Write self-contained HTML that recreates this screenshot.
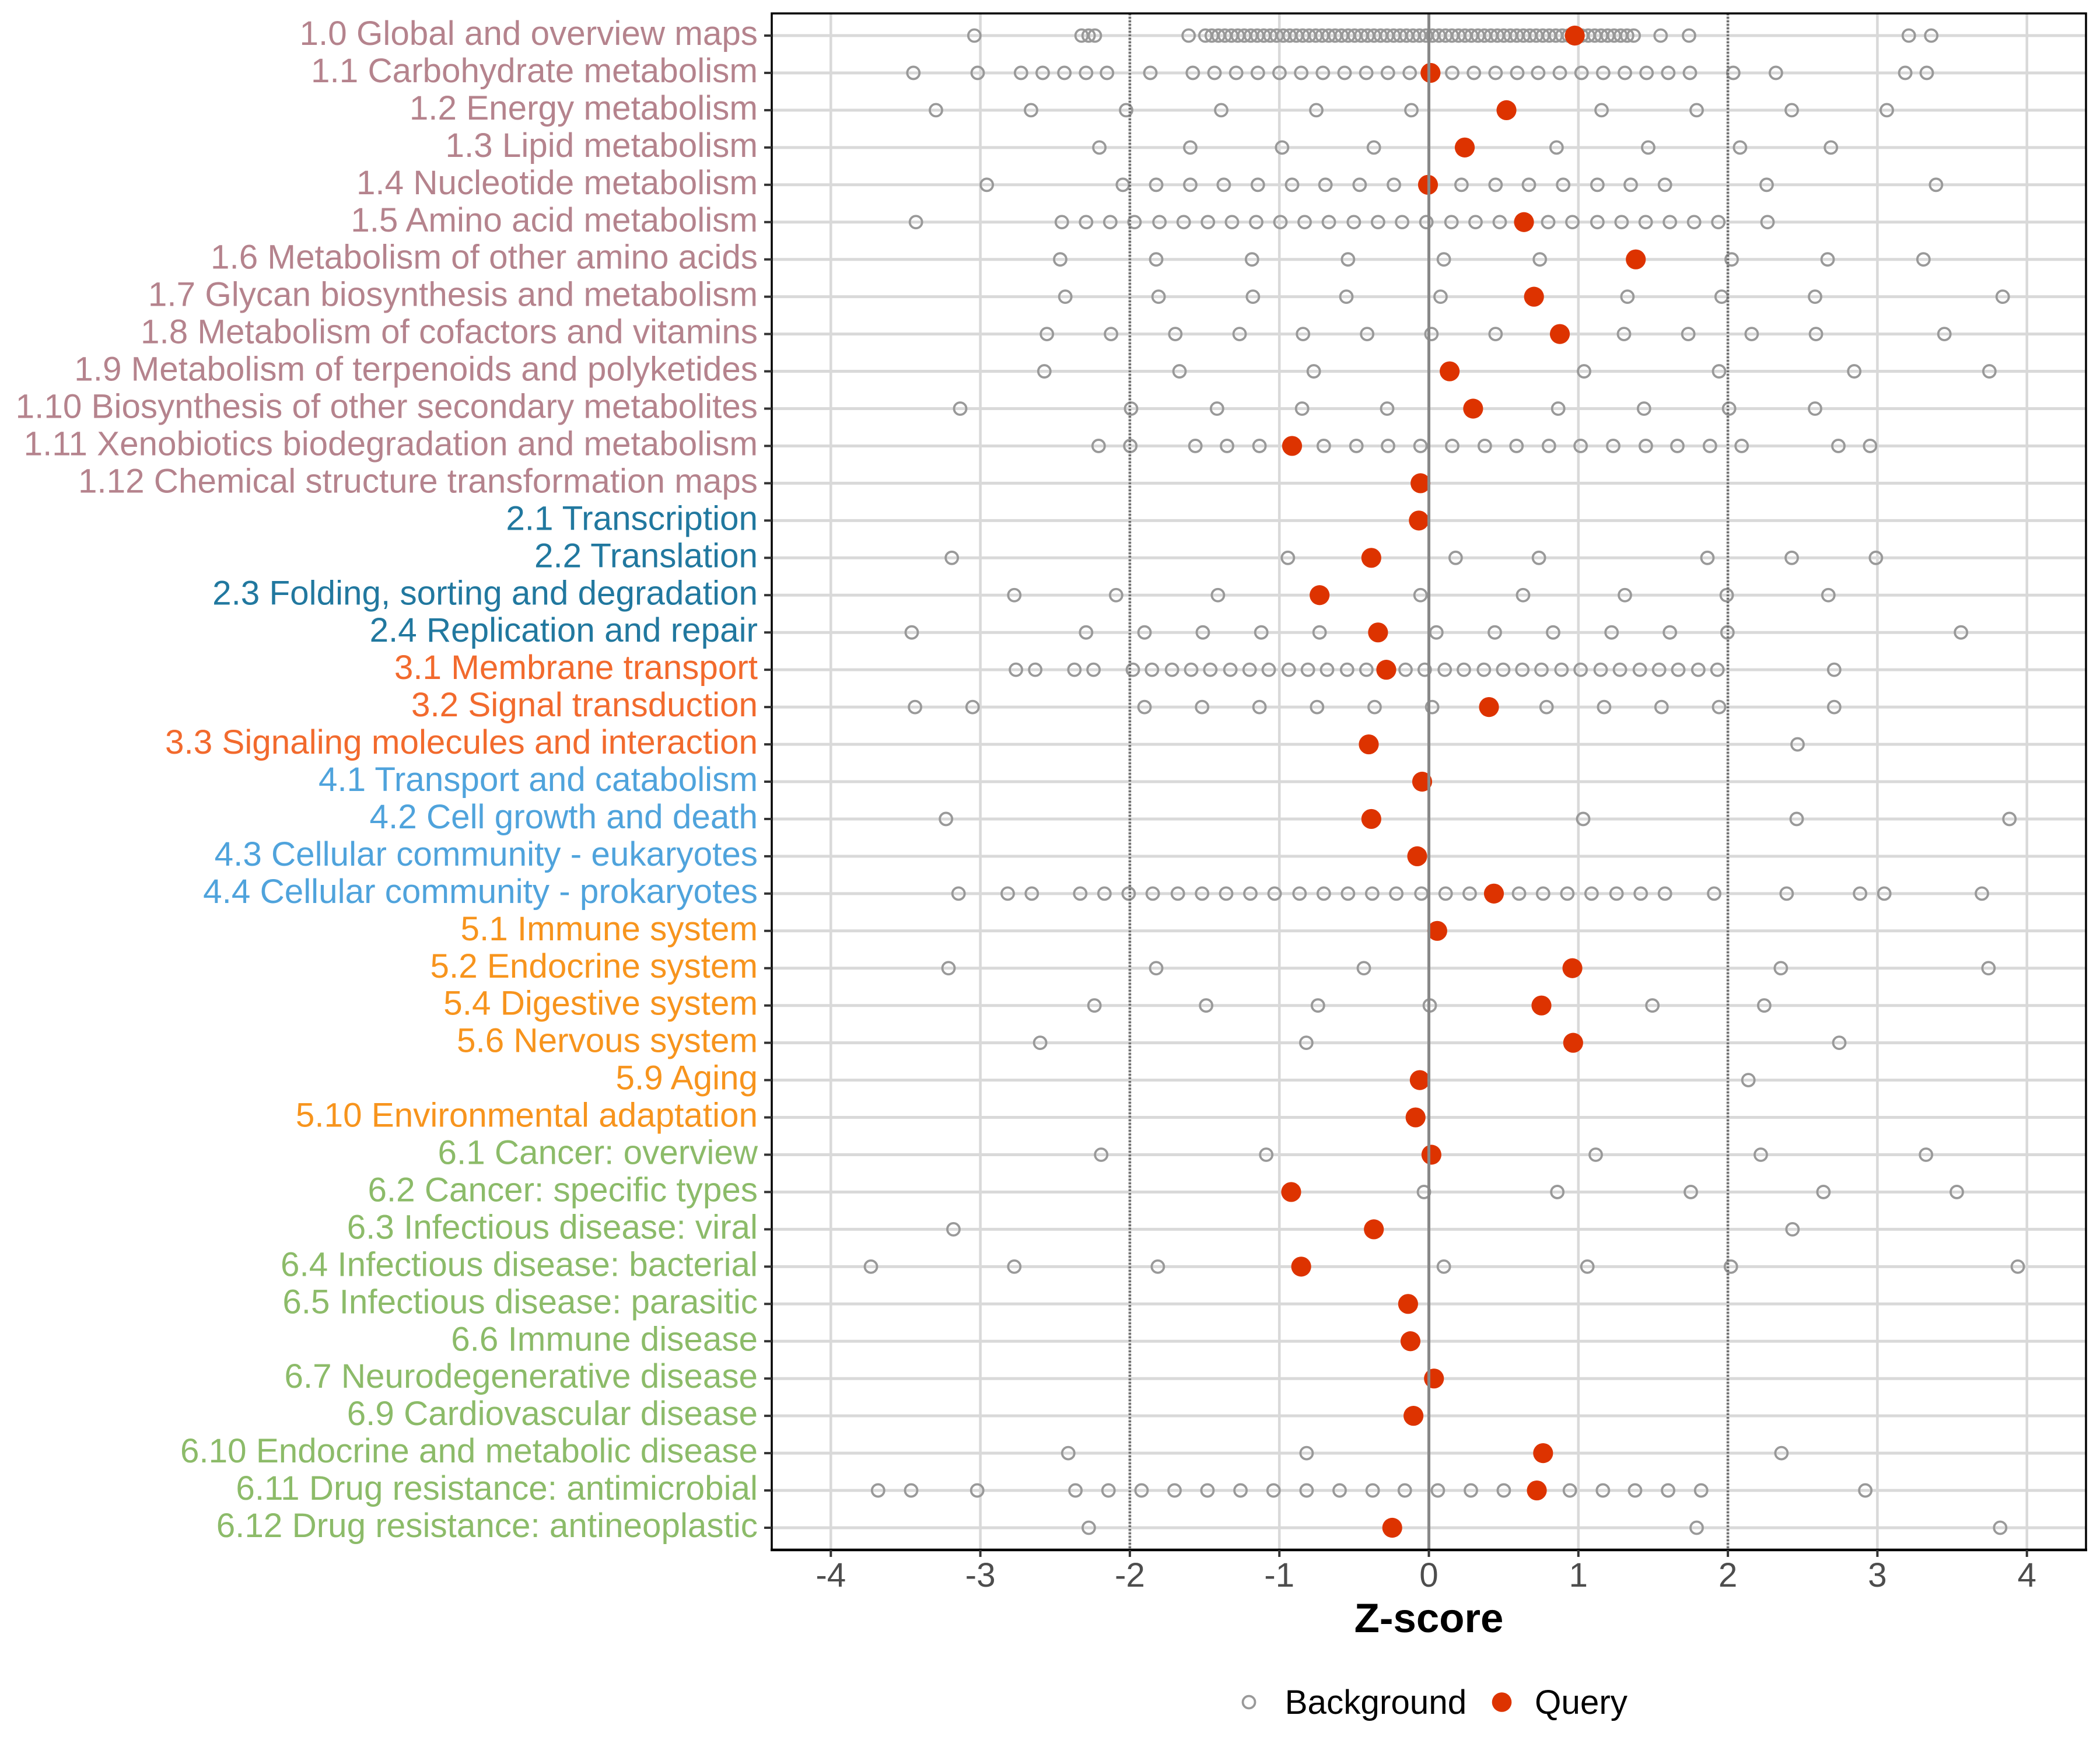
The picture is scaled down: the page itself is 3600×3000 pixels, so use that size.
<!DOCTYPE html>
<html>
<head>
<meta charset="utf-8">
<style>
html,body{margin:0;padding:0;background:#fff;}
svg{display:block;}
.b{fill:none;stroke:#999999;stroke-width:3.8px;vector-effect:non-scaling-stroke;}
.q{fill:#dd3300;stroke:none;}
.yl{font-family:"Liberation Sans",Arial,sans-serif;font-size:58.4px;text-anchor:end;}
.g1{fill:#b5838d}.g2{fill:#21789f}.g3{fill:#f26a2d}.g4{fill:#4fa3dc}.g5{fill:#f7941d}.g6{fill:#8cbb69}
.xl{font-family:"Liberation Sans",Arial,sans-serif;font-size:58.4px;text-anchor:middle;fill:#4d4d4d;}
.lg{font-family:"Liberation Sans",Arial,sans-serif;font-size:58.4px;fill:#000;}
</style>
</head>
<body>
<svg width="3600" height="3000" viewBox="0 0 3600 3000" xmlns="http://www.w3.org/2000/svg">
<rect x="0" y="0" width="3600" height="3000" fill="#fff"/>

<!-- vertical grid -->
<g stroke="#d9d9d9" stroke-width="4.5">
<line x1="1424.3" y1="23" x2="1424.3" y2="2657"/>
<line x1="1680.6" y1="23" x2="1680.6" y2="2657"/>
<line x1="1936.9" y1="23" x2="1936.9" y2="2657"/>
<line x1="2193.2" y1="23" x2="2193.2" y2="2657"/>
<line x1="2449.5" y1="23" x2="2449.5" y2="2657"/>
<line x1="2705.8" y1="23" x2="2705.8" y2="2657"/>
<line x1="2962.1" y1="23" x2="2962.1" y2="2657"/>
<line x1="3218.4" y1="23" x2="3218.4" y2="2657"/>
<line x1="3474.7" y1="23" x2="3474.7" y2="2657"/>
</g>
<!-- horizontal grid -->
<g stroke="#d9d9d9" stroke-width="5">
<line x1="1323" x2="3576" y1="61" y2="61"/>
<line x1="1323" x2="3576" y1="124.95" y2="124.95"/>
<line x1="1323" x2="3576" y1="188.9" y2="188.9"/>
<line x1="1323" x2="3576" y1="252.85" y2="252.85"/>
<line x1="1323" x2="3576" y1="316.8" y2="316.8"/>
<line x1="1323" x2="3576" y1="380.75" y2="380.75"/>
<line x1="1323" x2="3576" y1="444.7" y2="444.7"/>
<line x1="1323" x2="3576" y1="508.65" y2="508.65"/>
<line x1="1323" x2="3576" y1="572.6" y2="572.6"/>
<line x1="1323" x2="3576" y1="636.55" y2="636.55"/>
<line x1="1323" x2="3576" y1="700.5" y2="700.5"/>
<line x1="1323" x2="3576" y1="764.45" y2="764.45"/>
<line x1="1323" x2="3576" y1="828.4" y2="828.4"/>
<line x1="1323" x2="3576" y1="892.35" y2="892.35"/>
<line x1="1323" x2="3576" y1="956.3" y2="956.3"/>
<line x1="1323" x2="3576" y1="1020.25" y2="1020.25"/>
<line x1="1323" x2="3576" y1="1084.2" y2="1084.2"/>
<line x1="1323" x2="3576" y1="1148.15" y2="1148.15"/>
<line x1="1323" x2="3576" y1="1212.1" y2="1212.1"/>
<line x1="1323" x2="3576" y1="1276.05" y2="1276.05"/>
<line x1="1323" x2="3576" y1="1340" y2="1340"/>
<line x1="1323" x2="3576" y1="1403.95" y2="1403.95"/>
<line x1="1323" x2="3576" y1="1467.9" y2="1467.9"/>
<line x1="1323" x2="3576" y1="1531.85" y2="1531.85"/>
<line x1="1323" x2="3576" y1="1595.8" y2="1595.8"/>
<line x1="1323" x2="3576" y1="1659.75" y2="1659.75"/>
<line x1="1323" x2="3576" y1="1723.7" y2="1723.7"/>
<line x1="1323" x2="3576" y1="1787.65" y2="1787.65"/>
<line x1="1323" x2="3576" y1="1851.6" y2="1851.6"/>
<line x1="1323" x2="3576" y1="1915.55" y2="1915.55"/>
<line x1="1323" x2="3576" y1="1979.5" y2="1979.5"/>
<line x1="1323" x2="3576" y1="2043.45" y2="2043.45"/>
<line x1="1323" x2="3576" y1="2107.4" y2="2107.4"/>
<line x1="1323" x2="3576" y1="2171.35" y2="2171.35"/>
<line x1="1323" x2="3576" y1="2235.3" y2="2235.3"/>
<line x1="1323" x2="3576" y1="2299.25" y2="2299.25"/>
<line x1="1323" x2="3576" y1="2363.2" y2="2363.2"/>
<line x1="1323" x2="3576" y1="2427.15" y2="2427.15"/>
<line x1="1323" x2="3576" y1="2491.1" y2="2491.1"/>
<line x1="1323" x2="3576" y1="2555.05" y2="2555.05"/>
<line x1="1323" x2="3576" y1="2619" y2="2619"/>
</g>

<!-- points: each row group maps x = 2449.5 + 256.3*z -->
<!-- row 0 -->
<g transform="translate(2449.5 61) scale(256.3 1)">
<ellipse class="b" cx="-3.04" rx=".041" ry="10.5"/><ellipse class="b" cx="-2.323" rx=".041" ry="10.5"/><ellipse class="b" cx="-2.276" rx=".041" ry="10.5"/><ellipse class="b" cx="-2.234" rx=".041" ry="10.5"/><ellipse class="b" cx="-1.607" rx=".041" ry="10.5"/>
<ellipse class="b" cx="-1.495" rx=".041" ry="10.5"/><ellipse class="b" cx="-1.452" rx=".041" ry="10.5"/><ellipse class="b" cx="-1.408" rx=".041" ry="10.5"/><ellipse class="b" cx="-1.365" rx=".041" ry="10.5"/><ellipse class="b" cx="-1.321" rx=".041" ry="10.5"/><ellipse class="b" cx="-1.278" rx=".041" ry="10.5"/><ellipse class="b" cx="-1.235" rx=".041" ry="10.5"/><ellipse class="b" cx="-1.191" rx=".041" ry="10.5"/><ellipse class="b" cx="-1.148" rx=".041" ry="10.5"/><ellipse class="b" cx="-1.104" rx=".041" ry="10.5"/><ellipse class="b" cx="-1.061" rx=".041" ry="10.5"/><ellipse class="b" cx="-1.018" rx=".041" ry="10.5"/><ellipse class="b" cx="-0.974" rx=".041" ry="10.5"/><ellipse class="b" cx="-0.931" rx=".041" ry="10.5"/><ellipse class="b" cx="-0.887" rx=".041" ry="10.5"/><ellipse class="b" cx="-0.844" rx=".041" ry="10.5"/><ellipse class="b" cx="-0.801" rx=".041" ry="10.5"/><ellipse class="b" cx="-0.757" rx=".041" ry="10.5"/><ellipse class="b" cx="-0.714" rx=".041" ry="10.5"/><ellipse class="b" cx="-0.670" rx=".041" ry="10.5"/><ellipse class="b" cx="-0.627" rx=".041" ry="10.5"/><ellipse class="b" cx="-0.584" rx=".041" ry="10.5"/><ellipse class="b" cx="-0.540" rx=".041" ry="10.5"/><ellipse class="b" cx="-0.497" rx=".041" ry="10.5"/><ellipse class="b" cx="-0.453" rx=".041" ry="10.5"/><ellipse class="b" cx="-0.410" rx=".041" ry="10.5"/><ellipse class="b" cx="-0.367" rx=".041" ry="10.5"/><ellipse class="b" cx="-0.323" rx=".041" ry="10.5"/><ellipse class="b" cx="-0.280" rx=".041" ry="10.5"/><ellipse class="b" cx="-0.236" rx=".041" ry="10.5"/><ellipse class="b" cx="-0.193" rx=".041" ry="10.5"/><ellipse class="b" cx="-0.150" rx=".041" ry="10.5"/><ellipse class="b" cx="-0.106" rx=".041" ry="10.5"/><ellipse class="b" cx="-0.063" rx=".041" ry="10.5"/><ellipse class="b" cx="-0.019" rx=".041" ry="10.5"/><ellipse class="b" cx="0.024" rx=".041" ry="10.5"/><ellipse class="b" cx="0.067" rx=".041" ry="10.5"/><ellipse class="b" cx="0.111" rx=".041" ry="10.5"/><ellipse class="b" cx="0.154" rx=".041" ry="10.5"/><ellipse class="b" cx="0.198" rx=".041" ry="10.5"/><ellipse class="b" cx="0.241" rx=".041" ry="10.5"/><ellipse class="b" cx="0.284" rx=".041" ry="10.5"/><ellipse class="b" cx="0.328" rx=".041" ry="10.5"/><ellipse class="b" cx="0.371" rx=".041" ry="10.5"/><ellipse class="b" cx="0.415" rx=".041" ry="10.5"/><ellipse class="b" cx="0.458" rx=".041" ry="10.5"/><ellipse class="b" cx="0.501" rx=".041" ry="10.5"/><ellipse class="b" cx="0.545" rx=".041" ry="10.5"/><ellipse class="b" cx="0.588" rx=".041" ry="10.5"/><ellipse class="b" cx="0.632" rx=".041" ry="10.5"/><ellipse class="b" cx="0.675" rx=".041" ry="10.5"/><ellipse class="b" cx="0.718" rx=".041" ry="10.5"/><ellipse class="b" cx="0.762" rx=".041" ry="10.5"/><ellipse class="b" cx="0.805" rx=".041" ry="10.5"/><ellipse class="b" cx="0.849" rx=".041" ry="10.5"/><ellipse class="b" cx="0.892" rx=".041" ry="10.5"/><ellipse class="b" cx="0.935" rx=".041" ry="10.5"/><ellipse class="b" cx="0.979" rx=".041" ry="10.5"/><ellipse class="b" cx="1.022" rx=".041" ry="10.5"/><ellipse class="b" cx="1.066" rx=".041" ry="10.5"/><ellipse class="b" cx="1.109" rx=".041" ry="10.5"/><ellipse class="b" cx="1.152" rx=".041" ry="10.5"/><ellipse class="b" cx="1.196" rx=".041" ry="10.5"/><ellipse class="b" cx="1.239" rx=".041" ry="10.5"/><ellipse class="b" cx="1.283" rx=".041" ry="10.5"/><ellipse class="b" cx="1.326" rx=".041" ry="10.5"/><ellipse class="b" cx="1.370" rx=".041" ry="10.5"/>
<ellipse class="b" cx="1.55" rx=".041" ry="10.5"/><ellipse class="b" cx="1.74" rx=".041" ry="10.5"/><ellipse class="b" cx="3.21" rx=".041" ry="10.5"/><ellipse class="b" cx="3.36" rx=".041" ry="10.5"/>
<ellipse class="q" cx="0.976" rx=".0667" ry="17.1"/>
</g>
<!-- row 1 -->
<g transform="translate(2449.5 124.95) scale(256.3 1)">
<ellipse class="b" cx="-3.448" rx=".041" ry="10.5"/><ellipse class="b" cx="-3.018" rx=".041" ry="10.5"/><ellipse class="b" cx="-2.728" rx=".041" ry="10.5"/><ellipse class="b" cx="-2.583" rx=".041" ry="10.5"/><ellipse class="b" cx="-2.438" rx=".041" ry="10.5"/><ellipse class="b" cx="-2.293" rx=".041" ry="10.5"/><ellipse class="b" cx="-2.153" rx=".041" ry="10.5"/><ellipse class="b" cx="-1.863" rx=".041" ry="10.5"/><ellipse class="b" cx="-1.579" rx=".041" ry="10.5"/><ellipse class="b" cx="-1.434" rx=".041" ry="10.5"/><ellipse class="b" cx="-1.289" rx=".041" ry="10.5"/><ellipse class="b" cx="-1.144" rx=".041" ry="10.5"/><ellipse class="b" cx="-0.999" rx=".041" ry="10.5"/><ellipse class="b" cx="-0.854" rx=".041" ry="10.5"/><ellipse class="b" cx="-0.709" rx=".041" ry="10.5"/><ellipse class="b" cx="-0.564" rx=".041" ry="10.5"/><ellipse class="b" cx="-0.419" rx=".041" ry="10.5"/><ellipse class="b" cx="-0.274" rx=".041" ry="10.5"/><ellipse class="b" cx="-0.128" rx=".041" ry="10.5"/><ellipse class="b" cx="0.156" rx=".041" ry="10.5"/><ellipse class="b" cx="0.301" rx=".041" ry="10.5"/><ellipse class="b" cx="0.446" rx=".041" ry="10.5"/><ellipse class="b" cx="0.591" rx=".041" ry="10.5"/><ellipse class="b" cx="0.731" rx=".041" ry="10.5"/><ellipse class="b" cx="0.876" rx=".041" ry="10.5"/><ellipse class="b" cx="1.021" rx=".041" ry="10.5"/><ellipse class="b" cx="1.166" rx=".041" ry="10.5"/><ellipse class="b" cx="1.311" rx=".041" ry="10.5"/><ellipse class="b" cx="1.456" rx=".041" ry="10.5"/><ellipse class="b" cx="1.601" rx=".041" ry="10.5"/><ellipse class="b" cx="1.746" rx=".041" ry="10.5"/><ellipse class="b" cx="2.036" rx=".041" ry="10.5"/><ellipse class="b" cx="2.321" rx=".041" ry="10.5"/><ellipse class="b" cx="3.186" rx=".041" ry="10.5"/><ellipse class="b" cx="3.33" rx=".041" ry="10.5"/>
<ellipse class="q" cx="0.011" rx=".0667" ry="17.1"/>
</g>
<!-- row 2 -->
<g transform="translate(2449.5 188.9) scale(256.3 1)">
<ellipse class="b" cx="-3.297" rx=".041" ry="10.5"/><ellipse class="b" cx="-2.661" rx=".041" ry="10.5"/><ellipse class="b" cx="-2.025" rx=".041" ry="10.5"/><ellipse class="b" cx="-1.389" rx=".041" ry="10.5"/><ellipse class="b" cx="-0.753" rx=".041" ry="10.5"/><ellipse class="b" cx="-0.117" rx=".041" ry="10.5"/><ellipse class="b" cx="1.155" rx=".041" ry="10.5"/><ellipse class="b" cx="1.791" rx=".041" ry="10.5"/><ellipse class="b" cx="2.427" rx=".041" ry="10.5"/><ellipse class="b" cx="3.063" rx=".041" ry="10.5"/>
<ellipse class="q" cx="0.519" rx=".0667" ry="17.1"/>
</g>
<!-- row 3 -->
<g transform="translate(2449.5 252.85) scale(256.3 1)">
<ellipse class="b" cx="-2.204" rx=".041" ry="10.5"/><ellipse class="b" cx="-1.596" rx=".041" ry="10.5"/><ellipse class="b" cx="-0.982" rx=".041" ry="10.5"/><ellipse class="b" cx="-0.368" rx=".041" ry="10.5"/><ellipse class="b" cx="0.854" rx=".041" ry="10.5"/><ellipse class="b" cx="1.467" rx=".041" ry="10.5"/><ellipse class="b" cx="2.081" rx=".041" ry="10.5"/><ellipse class="b" cx="2.689" rx=".041" ry="10.5"/>
<ellipse class="q" cx="0.24" rx=".0667" ry="17.1"/>
</g>
<!-- row 4 -->
<g transform="translate(2449.5 316.8) scale(256.3 1)">
<ellipse class="b" cx="-2.957" rx=".041" ry="10.5"/><ellipse class="b" cx="-2.047" rx=".041" ry="10.5"/><ellipse class="b" cx="-1.824" rx=".041" ry="10.5"/><ellipse class="b" cx="-1.596" rx=".041" ry="10.5"/><ellipse class="b" cx="-1.372" rx=".041" ry="10.5"/><ellipse class="b" cx="-1.144" rx=".041" ry="10.5"/><ellipse class="b" cx="-0.915" rx=".041" ry="10.5"/><ellipse class="b" cx="-0.692" rx=".041" ry="10.5"/><ellipse class="b" cx="-0.463" rx=".041" ry="10.5"/><ellipse class="b" cx="-0.234" rx=".041" ry="10.5"/><ellipse class="b" cx="0.218" rx=".041" ry="10.5"/><ellipse class="b" cx="0.446" rx=".041" ry="10.5"/><ellipse class="b" cx="0.669" rx=".041" ry="10.5"/><ellipse class="b" cx="0.898" rx=".041" ry="10.5"/><ellipse class="b" cx="1.127" rx=".041" ry="10.5"/><ellipse class="b" cx="1.35" rx=".041" ry="10.5"/><ellipse class="b" cx="1.579" rx=".041" ry="10.5"/><ellipse class="b" cx="2.259" rx=".041" ry="10.5"/><ellipse class="b" cx="3.392" rx=".041" ry="10.5"/>
<ellipse class="q" cx="-0.006" rx=".0667" ry="17.1"/>
</g>
<!-- row 5 -->
<g transform="translate(2449.5 380.75) scale(256.3 1)">
<ellipse class="b" cx="-3.431" rx=".041" ry="10.5"/><ellipse class="b" cx="-2.455" rx=".041" ry="10.5"/><ellipse class="b" cx="-2.293" rx=".041" ry="10.5"/><ellipse class="b" cx="-2.131" rx=".041" ry="10.5"/><ellipse class="b" cx="-1.969" rx=".041" ry="10.5"/><ellipse class="b" cx="-1.802" rx=".041" ry="10.5"/><ellipse class="b" cx="-1.640" rx=".041" ry="10.5"/><ellipse class="b" cx="-1.478" rx=".041" ry="10.5"/><ellipse class="b" cx="-1.317" rx=".041" ry="10.5"/><ellipse class="b" cx="-1.155" rx=".041" ry="10.5"/><ellipse class="b" cx="-0.993" rx=".041" ry="10.5"/><ellipse class="b" cx="-0.831" rx=".041" ry="10.5"/><ellipse class="b" cx="-0.669" rx=".041" ry="10.5"/><ellipse class="b" cx="-0.502" rx=".041" ry="10.5"/><ellipse class="b" cx="-0.340" rx=".041" ry="10.5"/><ellipse class="b" cx="-0.179" rx=".041" ry="10.5"/><ellipse class="b" cx="-0.017" rx=".041" ry="10.5"/><ellipse class="b" cx="0.151" rx=".041" ry="10.5"/><ellipse class="b" cx="0.312" rx=".041" ry="10.5"/><ellipse class="b" cx="0.474" rx=".041" ry="10.5"/><ellipse class="b" cx="0.798" rx=".041" ry="10.5"/><ellipse class="b" cx="0.960" rx=".041" ry="10.5"/><ellipse class="b" cx="1.127" rx=".041" ry="10.5"/><ellipse class="b" cx="1.289" rx=".041" ry="10.5"/><ellipse class="b" cx="1.450" rx=".041" ry="10.5"/><ellipse class="b" cx="1.612" rx=".041" ry="10.5"/><ellipse class="b" cx="1.774" rx=".041" ry="10.5"/><ellipse class="b" cx="1.936" rx=".041" ry="10.5"/><ellipse class="b" cx="2.265" rx=".041" ry="10.5"/>
<ellipse class="q" cx="0.636" rx=".0667" ry="17.1"/>
</g>
<!-- row 6 -->
<g transform="translate(2449.5 444.7) scale(256.3 1)">
<ellipse class="b" cx="-2.466" rx=".041" ry="10.5"/><ellipse class="b" cx="-1.824" rx=".041" ry="10.5"/><ellipse class="b" cx="-1.183" rx=".041" ry="10.5"/><ellipse class="b" cx="-0.541" rx=".041" ry="10.5"/><ellipse class="b" cx="0.1" rx=".041" ry="10.5"/><ellipse class="b" cx="0.742" rx=".041" ry="10.5"/><ellipse class="b" cx="2.025" rx=".041" ry="10.5"/><ellipse class="b" cx="2.667" rx=".041" ry="10.5"/><ellipse class="b" cx="3.308" rx=".041" ry="10.5"/>
<ellipse class="q" cx="1.384" rx=".0667" ry="17.1"/>
</g>
<!-- row 7 -->
<g transform="translate(2449.5 508.65) scale(256.3 1)">
<ellipse class="b" cx="-2.432" rx=".041" ry="10.5"/><ellipse class="b" cx="-1.808" rx=".041" ry="10.5"/><ellipse class="b" cx="-1.177" rx=".041" ry="10.5"/><ellipse class="b" cx="-0.552" rx=".041" ry="10.5"/><ellipse class="b" cx="0.078" rx=".041" ry="10.5"/><ellipse class="b" cx="1.328" rx=".041" ry="10.5"/><ellipse class="b" cx="1.958" rx=".041" ry="10.5"/><ellipse class="b" cx="2.583" rx=".041" ry="10.5"/><ellipse class="b" cx="3.838" rx=".041" ry="10.5"/>
<ellipse class="q" cx="0.703" rx=".0667" ry="17.1"/>
</g>
<!-- row 8 -->
<g transform="translate(2449.5 572.6) scale(256.3 1)">
<ellipse class="b" cx="-2.555" rx=".041" ry="10.5"/><ellipse class="b" cx="-2.126" rx=".041" ry="10.5"/><ellipse class="b" cx="-1.696" rx=".041" ry="10.5"/><ellipse class="b" cx="-1.266" rx=".041" ry="10.5"/><ellipse class="b" cx="-0.842" rx=".041" ry="10.5"/><ellipse class="b" cx="-0.413" rx=".041" ry="10.5"/><ellipse class="b" cx="0.017" rx=".041" ry="10.5"/><ellipse class="b" cx="0.446" rx=".041" ry="10.5"/><ellipse class="b" cx="1.305" rx=".041" ry="10.5"/><ellipse class="b" cx="1.735" rx=".041" ry="10.5"/><ellipse class="b" cx="2.159" rx=".041" ry="10.5"/><ellipse class="b" cx="2.589" rx=".041" ry="10.5"/><ellipse class="b" cx="3.448" rx=".041" ry="10.5"/>
<ellipse class="q" cx="0.876" rx=".0667" ry="17.1"/>
</g>
<!-- row 9 -->
<g transform="translate(2449.5 636.55) scale(256.3 1)">
<ellipse class="b" cx="-2.572" rx=".041" ry="10.5"/><ellipse class="b" cx="-1.668" rx=".041" ry="10.5"/><ellipse class="b" cx="-0.770" rx=".041" ry="10.5"/><ellipse class="b" cx="1.038" rx=".041" ry="10.5"/><ellipse class="b" cx="1.941" rx=".041" ry="10.5"/><ellipse class="b" cx="2.845" rx=".041" ry="10.5"/><ellipse class="b" cx="3.749" rx=".041" ry="10.5"/>
<ellipse class="q" cx="0.139" rx=".0667" ry="17.1"/>
</g>
<!-- row 10 -->
<g transform="translate(2449.5 700.5) scale(256.3 1)">
<ellipse class="b" cx="-3.135" rx=".041" ry="10.5"/><ellipse class="b" cx="-1.992" rx=".041" ry="10.5"/><ellipse class="b" cx="-1.417" rx=".041" ry="10.5"/><ellipse class="b" cx="-0.848" rx=".041" ry="10.5"/><ellipse class="b" cx="-0.279" rx=".041" ry="10.5"/><ellipse class="b" cx="0.865" rx=".041" ry="10.5"/><ellipse class="b" cx="1.439" rx=".041" ry="10.5"/><ellipse class="b" cx="2.008" rx=".041" ry="10.5"/><ellipse class="b" cx="2.583" rx=".041" ry="10.5"/>
<ellipse class="q" cx="0.296" rx=".0667" ry="17.1"/>
</g>
<!-- row 11 -->
<g transform="translate(2449.5 764.45) scale(256.3 1)">
<ellipse class="b" cx="-2.209" rx=".041" ry="10.5"/><ellipse class="b" cx="-1.997" rx=".041" ry="10.5"/><ellipse class="b" cx="-1.562" rx=".041" ry="10.5"/><ellipse class="b" cx="-1.350" rx=".041" ry="10.5"/><ellipse class="b" cx="-1.133" rx=".041" ry="10.5"/><ellipse class="b" cx="-0.703" rx=".041" ry="10.5"/><ellipse class="b" cx="-0.485" rx=".041" ry="10.5"/><ellipse class="b" cx="-0.273" rx=".041" ry="10.5"/><ellipse class="b" cx="-0.056" rx=".041" ry="10.5"/><ellipse class="b" cx="0.156" rx=".041" ry="10.5"/><ellipse class="b" cx="0.374" rx=".041" ry="10.5"/><ellipse class="b" cx="0.586" rx=".041" ry="10.5"/><ellipse class="b" cx="0.803" rx=".041" ry="10.5"/><ellipse class="b" cx="1.015" rx=".041" ry="10.5"/><ellipse class="b" cx="1.233" rx=".041" ry="10.5"/><ellipse class="b" cx="1.451" rx=".041" ry="10.5"/><ellipse class="b" cx="1.662" rx=".041" ry="10.5"/><ellipse class="b" cx="1.880" rx=".041" ry="10.5"/><ellipse class="b" cx="2.092" rx=".041" ry="10.5"/><ellipse class="b" cx="2.739" rx=".041" ry="10.5"/><ellipse class="b" cx="2.951" rx=".041" ry="10.5"/>
<ellipse class="q" cx="-0.915" rx=".0667" ry="17.1"/>
</g>
<!-- row 12 -->
<g transform="translate(2449.5 828.4) scale(256.3 1)">
<ellipse class="q" cx="-0.056" rx=".0667" ry="17.1"/>
</g>
<!-- row 13 -->
<g transform="translate(2449.5 892.35) scale(256.3 1)">
<ellipse class="q" cx="-0.067" rx=".0667" ry="17.1"/>
</g>
<!-- row 14 -->
<g transform="translate(2449.5 956.3) scale(256.3 1)">
<ellipse class="b" cx="-3.191" rx=".041" ry="10.5"/><ellipse class="b" cx="-0.943" rx=".041" ry="10.5"/><ellipse class="b" cx="0.179" rx=".041" ry="10.5"/><ellipse class="b" cx="0.736" rx=".041" ry="10.5"/><ellipse class="b" cx="1.863" rx=".041" ry="10.5"/><ellipse class="b" cx="2.427" rx=".041" ry="10.5"/><ellipse class="b" cx="2.990" rx=".041" ry="10.5"/>
<ellipse class="q" cx="-0.385" rx=".0667" ry="17.1"/>
</g>
<!-- row 15 -->
<g transform="translate(2449.5 1020.25) scale(256.3 1)">
<ellipse class="b" cx="-2.773" rx=".041" ry="10.5"/><ellipse class="b" cx="-2.092" rx=".041" ry="10.5"/><ellipse class="b" cx="-1.411" rx=".041" ry="10.5"/><ellipse class="b" cx="-0.056" rx=".041" ry="10.5"/><ellipse class="b" cx="0.630" rx=".041" ry="10.5"/><ellipse class="b" cx="1.311" rx=".041" ry="10.5"/><ellipse class="b" cx="1.992" rx=".041" ry="10.5"/><ellipse class="b" cx="2.672" rx=".041" ry="10.5"/>
<ellipse class="q" cx="-0.731" rx=".0667" ry="17.1"/>
</g>
<!-- row 16 -->
<g transform="translate(2449.5 1084.2) scale(256.3 1)">
<ellipse class="b" cx="-3.459" rx=".041" ry="10.5"/><ellipse class="b" cx="-2.293" rx=".041" ry="10.5"/><ellipse class="b" cx="-1.902" rx=".041" ry="10.5"/><ellipse class="b" cx="-1.512" rx=".041" ry="10.5"/><ellipse class="b" cx="-1.121" rx=".041" ry="10.5"/><ellipse class="b" cx="-0.731" rx=".041" ry="10.5"/><ellipse class="b" cx="0.050" rx=".041" ry="10.5"/><ellipse class="b" cx="0.441" rx=".041" ry="10.5"/><ellipse class="b" cx="0.831" rx=".041" ry="10.5"/><ellipse class="b" cx="1.222" rx=".041" ry="10.5"/><ellipse class="b" cx="1.612" rx=".041" ry="10.5"/><ellipse class="b" cx="1.997" rx=".041" ry="10.5"/><ellipse class="b" cx="3.559" rx=".041" ry="10.5"/>
<ellipse class="q" cx="-0.340" rx=".0667" ry="17.1"/>
</g>
<!-- row 17 -->
<g transform="translate(2449.5 1148.15) scale(256.3 1)">
<ellipse class="b" cx="-2.762" rx=".041" ry="10.5"/><ellipse class="b" cx="-2.633" rx=".041" ry="10.5"/><ellipse class="b" cx="-2.371" rx=".041" ry="10.5"/><ellipse class="b" cx="-2.243" rx=".041" ry="10.5"/><ellipse class="b" cx="-1.980" rx=".041" ry="10.5"/><ellipse class="b" cx="-1.852" rx=".041" ry="10.5"/><ellipse class="b" cx="-1.718" rx=".041" ry="10.5"/><ellipse class="b" cx="-1.590" rx=".041" ry="10.5"/><ellipse class="b" cx="-1.462" rx=".041" ry="10.5"/><ellipse class="b" cx="-1.328" rx=".041" ry="10.5"/><ellipse class="b" cx="-1.199" rx=".041" ry="10.5"/><ellipse class="b" cx="-1.071" rx=".041" ry="10.5"/><ellipse class="b" cx="-0.937" rx=".041" ry="10.5"/><ellipse class="b" cx="-0.809" rx=".041" ry="10.5"/><ellipse class="b" cx="-0.681" rx=".041" ry="10.5"/><ellipse class="b" cx="-0.547" rx=".041" ry="10.5"/><ellipse class="b" cx="-0.418" rx=".041" ry="10.5"/><ellipse class="b" cx="-0.156" rx=".041" ry="10.5"/><ellipse class="b" cx="-0.028" rx=".041" ry="10.5"/><ellipse class="b" cx="0.106" rx=".041" ry="10.5"/><ellipse class="b" cx="0.234" rx=".041" ry="10.5"/><ellipse class="b" cx="0.368" rx=".041" ry="10.5"/><ellipse class="b" cx="0.497" rx=".041" ry="10.5"/><ellipse class="b" cx="0.625" rx=".041" ry="10.5"/><ellipse class="b" cx="0.753" rx=".041" ry="10.5"/><ellipse class="b" cx="0.887" rx=".041" ry="10.5"/><ellipse class="b" cx="1.015" rx=".041" ry="10.5"/><ellipse class="b" cx="1.149" rx=".041" ry="10.5"/><ellipse class="b" cx="1.278" rx=".041" ry="10.5"/><ellipse class="b" cx="1.411" rx=".041" ry="10.5"/><ellipse class="b" cx="1.540" rx=".041" ry="10.5"/><ellipse class="b" cx="1.668" rx=".041" ry="10.5"/><ellipse class="b" cx="1.802" rx=".041" ry="10.5"/><ellipse class="b" cx="1.930" rx=".041" ry="10.5"/><ellipse class="b" cx="2.711" rx=".041" ry="10.5"/>
<ellipse class="q" cx="-0.285" rx=".0667" ry="17.1"/>
</g>
<!-- row 18 -->
<g transform="translate(2449.5 1212.1) scale(256.3 1)">
<ellipse class="b" cx="-3.437" rx=".041" ry="10.5"/><ellipse class="b" cx="-3.052" rx=".041" ry="10.5"/><ellipse class="b" cx="-1.902" rx=".041" ry="10.5"/><ellipse class="b" cx="-1.517" rx=".041" ry="10.5"/><ellipse class="b" cx="-1.133" rx=".041" ry="10.5"/><ellipse class="b" cx="-0.748" rx=".041" ry="10.5"/><ellipse class="b" cx="-0.363" rx=".041" ry="10.5"/><ellipse class="b" cx="0.022" rx=".041" ry="10.5"/><ellipse class="b" cx="0.787" rx=".041" ry="10.5"/><ellipse class="b" cx="1.172" rx=".041" ry="10.5"/><ellipse class="b" cx="1.556" rx=".041" ry="10.5"/><ellipse class="b" cx="1.941" rx=".041" ry="10.5"/><ellipse class="b" cx="2.711" rx=".041" ry="10.5"/>
<ellipse class="q" cx="0.402" rx=".0667" ry="17.1"/>
</g>
<!-- row 19 -->
<g transform="translate(2449.5 1276.05) scale(256.3 1)">
<ellipse class="b" cx="2.466" rx=".041" ry="10.5"/>
<ellipse class="q" cx="-0.402" rx=".0667" ry="17.1"/>
</g>
<!-- row 20 -->
<g transform="translate(2449.5 1340) scale(256.3 1)">
<ellipse class="q" cx="-0.045" rx=".0667" ry="17.1"/>
</g>
<!-- row 21 -->
<g transform="translate(2449.5 1403.95) scale(256.3 1)">
<ellipse class="b" cx="-3.230" rx=".041" ry="10.5"/><ellipse class="b" cx="1.032" rx=".041" ry="10.5"/><ellipse class="b" cx="2.460" rx=".041" ry="10.5"/><ellipse class="b" cx="3.883" rx=".041" ry="10.5"/>
<ellipse class="q" cx="-0.385" rx=".0667" ry="17.1"/>
</g>
<!-- row 22 -->
<g transform="translate(2449.5 1467.9) scale(256.3 1)">
<ellipse class="q" cx="-0.078" rx=".0667" ry="17.1"/>
</g>
<!-- row 23 -->
<g transform="translate(2449.5 1531.85) scale(256.3 1)">
<ellipse class="b" cx="-3.146" rx=".041" ry="10.5"/><ellipse class="b" cx="-2.817" rx=".041" ry="10.5"/><ellipse class="b" cx="-2.656" rx=".041" ry="10.5"/><ellipse class="b" cx="-2.332" rx=".041" ry="10.5"/><ellipse class="b" cx="-2.170" rx=".041" ry="10.5"/><ellipse class="b" cx="-2.008" rx=".041" ry="10.5"/><ellipse class="b" cx="-1.847" rx=".041" ry="10.5"/><ellipse class="b" cx="-1.679" rx=".041" ry="10.5"/><ellipse class="b" cx="-1.517" rx=".041" ry="10.5"/><ellipse class="b" cx="-1.356" rx=".041" ry="10.5"/><ellipse class="b" cx="-1.194" rx=".041" ry="10.5"/><ellipse class="b" cx="-1.032" rx=".041" ry="10.5"/><ellipse class="b" cx="-0.865" rx=".041" ry="10.5"/><ellipse class="b" cx="-0.703" rx=".041" ry="10.5"/><ellipse class="b" cx="-0.541" rx=".041" ry="10.5"/><ellipse class="b" cx="-0.379" rx=".041" ry="10.5"/><ellipse class="b" cx="-0.218" rx=".041" ry="10.5"/><ellipse class="b" cx="-0.050" rx=".041" ry="10.5"/><ellipse class="b" cx="0.112" rx=".041" ry="10.5"/><ellipse class="b" cx="0.273" rx=".041" ry="10.5"/><ellipse class="b" cx="0.603" rx=".041" ry="10.5"/><ellipse class="b" cx="0.764" rx=".041" ry="10.5"/><ellipse class="b" cx="0.926" rx=".041" ry="10.5"/><ellipse class="b" cx="1.088" rx=".041" ry="10.5"/><ellipse class="b" cx="1.255" rx=".041" ry="10.5"/><ellipse class="b" cx="1.417" rx=".041" ry="10.5"/><ellipse class="b" cx="1.579" rx=".041" ry="10.5"/><ellipse class="b" cx="1.908" rx=".041" ry="10.5"/><ellipse class="b" cx="2.393" rx=".041" ry="10.5"/><ellipse class="b" cx="2.884" rx=".041" ry="10.5"/><ellipse class="b" cx="3.046" rx=".041" ry="10.5"/><ellipse class="b" cx="3.699" rx=".041" ry="10.5"/>
<ellipse class="q" cx="0.435" rx=".0667" ry="17.1"/>
</g>
<!-- row 24 -->
<g transform="translate(2449.5 1595.8) scale(256.3 1)">
<ellipse class="q" cx="0.056" rx=".0667" ry="17.1"/>
</g>
<!-- row 25 -->
<g transform="translate(2449.5 1659.75) scale(256.3 1)">
<ellipse class="b" cx="-3.213" rx=".041" ry="10.5"/><ellipse class="b" cx="-1.824" rx=".041" ry="10.5"/><ellipse class="b" cx="-0.435" rx=".041" ry="10.5"/><ellipse class="b" cx="2.354" rx=".041" ry="10.5"/><ellipse class="b" cx="3.743" rx=".041" ry="10.5"/>
<ellipse class="q" cx="0.960" rx=".0667" ry="17.1"/>
</g>
<!-- row 26 -->
<g transform="translate(2449.5 1723.7) scale(256.3 1)">
<ellipse class="b" cx="-2.237" rx=".041" ry="10.5"/><ellipse class="b" cx="-1.490" rx=".041" ry="10.5"/><ellipse class="b" cx="-0.742" rx=".041" ry="10.5"/><ellipse class="b" cx="0.006" rx=".041" ry="10.5"/><ellipse class="b" cx="1.495" rx=".041" ry="10.5"/><ellipse class="b" cx="2.243" rx=".041" ry="10.5"/>
<ellipse class="q" cx="0.753" rx=".0667" ry="17.1"/>
</g>
<!-- row 27 -->
<g transform="translate(2449.5 1787.65) scale(256.3 1)">
<ellipse class="b" cx="-2.600" rx=".041" ry="10.5"/><ellipse class="b" cx="-0.820" rx=".041" ry="10.5"/><ellipse class="b" cx="2.745" rx=".041" ry="10.5"/>
<ellipse class="q" cx="0.965" rx=".0667" ry="17.1"/>
</g>
<!-- row 28 -->
<g transform="translate(2449.5 1851.6) scale(256.3 1)">
<ellipse class="b" cx="2.137" rx=".041" ry="10.5"/>
<ellipse class="q" cx="-0.061" rx=".0667" ry="17.1"/>
</g>
<!-- row 29 -->
<g transform="translate(2449.5 1915.55) scale(256.3 1)">
<ellipse class="q" cx="-0.089" rx=".0667" ry="17.1"/>
</g>
<!-- row 30 -->
<g transform="translate(2449.5 1979.5) scale(256.3 1)">
<ellipse class="b" cx="-2.192" rx=".041" ry="10.5"/><ellipse class="b" cx="-1.088" rx=".041" ry="10.5"/><ellipse class="b" cx="1.116" rx=".041" ry="10.5"/><ellipse class="b" cx="2.220" rx=".041" ry="10.5"/><ellipse class="b" cx="3.325" rx=".041" ry="10.5"/>
<ellipse class="q" cx="0.017" rx=".0667" ry="17.1"/>
</g>
<!-- row 31 -->
<g transform="translate(2449.5 2043.45) scale(256.3 1)">
<ellipse class="b" cx="-0.033" rx=".041" ry="10.5"/><ellipse class="b" cx="0.859" rx=".041" ry="10.5"/><ellipse class="b" cx="1.752" rx=".041" ry="10.5"/><ellipse class="b" cx="2.639" rx=".041" ry="10.5"/><ellipse class="b" cx="3.531" rx=".041" ry="10.5"/>
<ellipse class="q" cx="-0.921" rx=".0667" ry="17.1"/>
</g>
<!-- row 32 -->
<g transform="translate(2449.5 2107.4) scale(256.3 1)">
<ellipse class="b" cx="-3.180" rx=".041" ry="10.5"/><ellipse class="b" cx="2.432" rx=".041" ry="10.5"/>
<ellipse class="q" cx="-0.368" rx=".0667" ry="17.1"/>
</g>
<!-- row 33 -->
<g transform="translate(2449.5 2171.35) scale(256.3 1)">
<ellipse class="b" cx="-3.732" rx=".041" ry="10.5"/><ellipse class="b" cx="-2.773" rx=".041" ry="10.5"/><ellipse class="b" cx="-1.813" rx=".041" ry="10.5"/><ellipse class="b" cx="0.100" rx=".041" ry="10.5"/><ellipse class="b" cx="1.060" rx=".041" ry="10.5"/><ellipse class="b" cx="2.020" rx=".041" ry="10.5"/><ellipse class="b" cx="3.939" rx=".041" ry="10.5"/>
<ellipse class="q" cx="-0.854" rx=".0667" ry="17.1"/>
</g>
<!-- row 34 -->
<g transform="translate(2449.5 2235.3) scale(256.3 1)">
<ellipse class="q" cx="-0.139" rx=".0667" ry="17.1"/>
</g>
<!-- row 35 -->
<g transform="translate(2449.5 2299.25) scale(256.3 1)">
<ellipse class="q" cx="-0.123" rx=".0667" ry="17.1"/>
</g>
<!-- row 36 -->
<g transform="translate(2449.5 2363.2) scale(256.3 1)">
<ellipse class="q" cx="0.034" rx=".0667" ry="17.1"/>
</g>
<!-- row 37 -->
<g transform="translate(2449.5 2427.15) scale(256.3 1)">
<ellipse class="q" cx="-0.103" rx=".0667" ry="17.1"/>
</g>
<!-- row 38 -->
<g transform="translate(2449.5 2491.1) scale(256.3 1)">
<ellipse class="b" cx="-2.412" rx=".041" ry="10.5"/><ellipse class="b" cx="-0.818" rx=".041" ry="10.5"/><ellipse class="b" cx="2.358" rx=".041" ry="10.5"/>
<ellipse class="q" cx="0.764" rx=".0667" ry="17.1"/>
</g>
<!-- row 39 -->
<g transform="translate(2449.5 2555.05) scale(256.3 1)">
<ellipse class="b" cx="-3.684" rx=".041" ry="10.5"/><ellipse class="b" cx="-3.463" rx=".041" ry="10.5"/><ellipse class="b" cx="-3.021" rx=".041" ry="10.5"/><ellipse class="b" cx="-2.364" rx=".041" ry="10.5"/><ellipse class="b" cx="-2.143" rx=".041" ry="10.5"/><ellipse class="b" cx="-1.922" rx=".041" ry="10.5"/><ellipse class="b" cx="-1.701" rx=".041" ry="10.5"/><ellipse class="b" cx="-1.481" rx=".041" ry="10.5"/><ellipse class="b" cx="-1.260" rx=".041" ry="10.5"/><ellipse class="b" cx="-1.039" rx=".041" ry="10.5"/><ellipse class="b" cx="-0.818" rx=".041" ry="10.5"/><ellipse class="b" cx="-0.597" rx=".041" ry="10.5"/><ellipse class="b" cx="-0.376" rx=".041" ry="10.5"/><ellipse class="b" cx="-0.161" rx=".041" ry="10.5"/><ellipse class="b" cx="0.060" rx=".041" ry="10.5"/><ellipse class="b" cx="0.281" rx=".041" ry="10.5"/><ellipse class="b" cx="0.501" rx=".041" ry="10.5"/><ellipse class="b" cx="0.943" rx=".041" ry="10.5"/><ellipse class="b" cx="1.164" rx=".041" ry="10.5"/><ellipse class="b" cx="1.379" rx=".041" ry="10.5"/><ellipse class="b" cx="1.600" rx=".041" ry="10.5"/><ellipse class="b" cx="1.821" rx=".041" ry="10.5"/><ellipse class="b" cx="2.919" rx=".041" ry="10.5"/>
<ellipse class="q" cx="0.722" rx=".0667" ry="17.1"/>
</g>
<!-- row 40 -->
<g transform="translate(2449.5 2619) scale(256.3 1)">
<ellipse class="b" cx="-2.275" rx=".041" ry="10.5"/><ellipse class="b" cx="1.791" rx=".041" ry="10.5"/><ellipse class="b" cx="3.821" rx=".041" ry="10.5"/>
<ellipse class="q" cx="-0.245" rx=".0667" ry="17.1"/>
</g>

<!-- reference lines (drawn over points) -->
<line x1="2449.5" y1="23" x2="2449.5" y2="2657" stroke="#888888" stroke-width="5"/>
<line x1="1936.9" y1="23" x2="1936.9" y2="2657" stroke="#6e6e6e" stroke-width="4.5" stroke-dasharray="3 3"/>
<line x1="2962.1" y1="23" x2="2962.1" y2="2657" stroke="#6e6e6e" stroke-width="4.5" stroke-dasharray="3 3"/>

<!-- panel border -->
<rect x="1323" y="23" width="2253" height="2634" fill="none" stroke="#000" stroke-width="3.5"/>
<line x1="1321" y1="2657" x2="3578" y2="2657" stroke="#000" stroke-width="4.5"/>

<!-- y ticks -->
<g stroke="#333" stroke-width="4">
<line x1="1310" x2="1323" y1="61" y2="61"/><line x1="1310" x2="1323" y1="124.95" y2="124.95"/><line x1="1310" x2="1323" y1="188.9" y2="188.9"/><line x1="1310" x2="1323" y1="252.85" y2="252.85"/><line x1="1310" x2="1323" y1="316.8" y2="316.8"/><line x1="1310" x2="1323" y1="380.75" y2="380.75"/><line x1="1310" x2="1323" y1="444.7" y2="444.7"/><line x1="1310" x2="1323" y1="508.65" y2="508.65"/><line x1="1310" x2="1323" y1="572.6" y2="572.6"/><line x1="1310" x2="1323" y1="636.55" y2="636.55"/><line x1="1310" x2="1323" y1="700.5" y2="700.5"/><line x1="1310" x2="1323" y1="764.45" y2="764.45"/><line x1="1310" x2="1323" y1="828.4" y2="828.4"/><line x1="1310" x2="1323" y1="892.35" y2="892.35"/><line x1="1310" x2="1323" y1="956.3" y2="956.3"/><line x1="1310" x2="1323" y1="1020.25" y2="1020.25"/><line x1="1310" x2="1323" y1="1084.2" y2="1084.2"/><line x1="1310" x2="1323" y1="1148.15" y2="1148.15"/><line x1="1310" x2="1323" y1="1212.1" y2="1212.1"/><line x1="1310" x2="1323" y1="1276.05" y2="1276.05"/><line x1="1310" x2="1323" y1="1340" y2="1340"/><line x1="1310" x2="1323" y1="1403.95" y2="1403.95"/><line x1="1310" x2="1323" y1="1467.9" y2="1467.9"/><line x1="1310" x2="1323" y1="1531.85" y2="1531.85"/><line x1="1310" x2="1323" y1="1595.8" y2="1595.8"/><line x1="1310" x2="1323" y1="1659.75" y2="1659.75"/><line x1="1310" x2="1323" y1="1723.7" y2="1723.7"/><line x1="1310" x2="1323" y1="1787.65" y2="1787.65"/><line x1="1310" x2="1323" y1="1851.6" y2="1851.6"/><line x1="1310" x2="1323" y1="1915.55" y2="1915.55"/><line x1="1310" x2="1323" y1="1979.5" y2="1979.5"/><line x1="1310" x2="1323" y1="2043.45" y2="2043.45"/><line x1="1310" x2="1323" y1="2107.4" y2="2107.4"/><line x1="1310" x2="1323" y1="2171.35" y2="2171.35"/><line x1="1310" x2="1323" y1="2235.3" y2="2235.3"/><line x1="1310" x2="1323" y1="2299.25" y2="2299.25"/><line x1="1310" x2="1323" y1="2363.2" y2="2363.2"/><line x1="1310" x2="1323" y1="2427.15" y2="2427.15"/><line x1="1310" x2="1323" y1="2491.1" y2="2491.1"/><line x1="1310" x2="1323" y1="2555.05" y2="2555.05"/><line x1="1310" x2="1323" y1="2619" y2="2619"/>
</g>
<!-- x ticks -->
<g stroke="#333" stroke-width="4">
<line x1="1424.3" x2="1424.3" y1="2657" y2="2669"/><line x1="1680.6" x2="1680.6" y1="2657" y2="2669"/><line x1="1936.9" x2="1936.9" y1="2657" y2="2669"/><line x1="2193.2" x2="2193.2" y1="2657" y2="2669"/><line x1="2449.5" x2="2449.5" y1="2657" y2="2669"/><line x1="2705.8" x2="2705.8" y1="2657" y2="2669"/><line x1="2962.1" x2="2962.1" y1="2657" y2="2669"/><line x1="3218.4" x2="3218.4" y1="2657" y2="2669"/><line x1="3474.7" x2="3474.7" y1="2657" y2="2669"/>
</g>

<!-- x tick labels -->
<text class="xl" x="1424.3" y="2720">-4</text>
<text class="xl" x="1680.6" y="2720">-3</text>
<text class="xl" x="1936.9" y="2720">-2</text>
<text class="xl" x="2193.2" y="2720">-1</text>
<text class="xl" x="2449.5" y="2720">0</text>
<text class="xl" x="2705.8" y="2720">1</text>
<text class="xl" x="2962.1" y="2720">2</text>
<text class="xl" x="3218.4" y="2720">3</text>
<text class="xl" x="3474.7" y="2720">4</text>

<!-- x axis title -->
<text x="2449.5" y="2798" font-family="Liberation Sans, Arial, sans-serif" font-size="70.8" font-weight="bold" text-anchor="middle" fill="#000">Z-score</text>

<!-- y labels -->
<text class="yl g1" x="1299" y="77">1.0 Global and overview maps</text>
<text class="yl g1" x="1299" y="140.95">1.1 Carbohydrate metabolism</text>
<text class="yl g1" x="1299" y="204.9">1.2 Energy metabolism</text>
<text class="yl g1" x="1299" y="268.85">1.3 Lipid metabolism</text>
<text class="yl g1" x="1299" y="332.8">1.4 Nucleotide metabolism</text>
<text class="yl g1" x="1299" y="396.75">1.5 Amino acid metabolism</text>
<text class="yl g1" x="1299" y="460.7">1.6 Metabolism of other amino acids</text>
<text class="yl g1" x="1299" y="524.65">1.7 Glycan biosynthesis and metabolism</text>
<text class="yl g1" x="1299" y="588.6">1.8 Metabolism of cofactors and vitamins</text>
<text class="yl g1" x="1299" y="652.55">1.9 Metabolism of terpenoids and polyketides</text>
<text class="yl g1" x="1299" y="716.5">1.10 Biosynthesis of other secondary metabolites</text>
<text class="yl g1" x="1299" y="780.45">1.11 Xenobiotics biodegradation and metabolism</text>
<text class="yl g1" x="1299" y="844.4">1.12 Chemical structure transformation maps</text>
<text class="yl g2" x="1299" y="908.35">2.1 Transcription</text>
<text class="yl g2" x="1299" y="972.3">2.2 Translation</text>
<text class="yl g2" x="1299" y="1036.25">2.3 Folding, sorting and degradation</text>
<text class="yl g2" x="1299" y="1100.2">2.4 Replication and repair</text>
<text class="yl g3" x="1299" y="1164.15">3.1 Membrane transport</text>
<text class="yl g3" x="1299" y="1228.1">3.2 Signal transduction</text>
<text class="yl g3" x="1299" y="1292.05">3.3 Signaling molecules and interaction</text>
<text class="yl g4" x="1299" y="1356">4.1 Transport and catabolism</text>
<text class="yl g4" x="1299" y="1419.95">4.2 Cell growth and death</text>
<text class="yl g4" x="1299" y="1483.9">4.3 Cellular community - eukaryotes</text>
<text class="yl g4" x="1299" y="1547.85">4.4 Cellular community - prokaryotes</text>
<text class="yl g5" x="1299" y="1611.8">5.1 Immune system</text>
<text class="yl g5" x="1299" y="1675.75">5.2 Endocrine system</text>
<text class="yl g5" x="1299" y="1739.7">5.4 Digestive system</text>
<text class="yl g5" x="1299" y="1803.65">5.6 Nervous system</text>
<text class="yl g5" x="1299" y="1867.6">5.9 Aging</text>
<text class="yl g5" x="1299" y="1931.55">5.10 Environmental adaptation</text>
<text class="yl g6" x="1299" y="1995.5">6.1 Cancer: overview</text>
<text class="yl g6" x="1299" y="2059.45">6.2 Cancer: specific types</text>
<text class="yl g6" x="1299" y="2123.4">6.3 Infectious disease: viral</text>
<text class="yl g6" x="1299" y="2187.35">6.4 Infectious disease: bacterial</text>
<text class="yl g6" x="1299" y="2251.3">6.5 Infectious disease: parasitic</text>
<text class="yl g6" x="1299" y="2315.25">6.6 Immune disease</text>
<text class="yl g6" x="1299" y="2379.2">6.7 Neurodegenerative disease</text>
<text class="yl g6" x="1299" y="2443.15">6.9 Cardiovascular disease</text>
<text class="yl g6" x="1299" y="2507.1">6.10 Endocrine and metabolic disease</text>
<text class="yl g6" x="1299" y="2571.05">6.11 Drug resistance: antimicrobial</text>
<text class="yl g6" x="1299" y="2635">6.12 Drug resistance: antineoplastic</text>

<!-- legend -->
<circle cx="2141" cy="2918" r="10.5" fill="none" stroke="#999999" stroke-width="3.8"/>
<text class="lg" x="2202.6" y="2938">Background</text>
<circle cx="2574.5" cy="2918" r="16.8" fill="#dd3300"/>
<text class="lg" x="2631" y="2938">Query</text>
</svg>
</body>
</html>
